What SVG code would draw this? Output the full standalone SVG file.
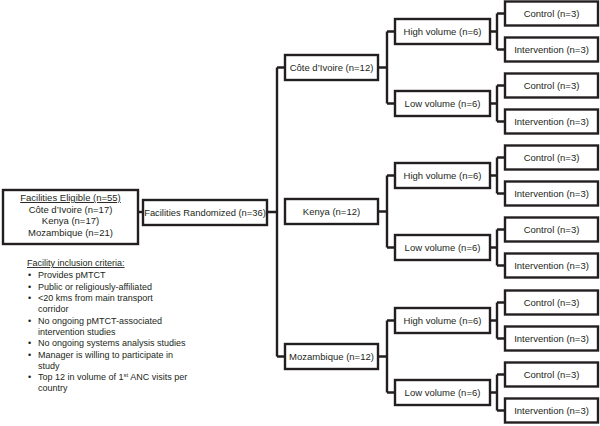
<svg xmlns="http://www.w3.org/2000/svg" width="600" height="426" viewBox="0 0 600 426">
<style>
rect{fill:#fff;stroke:#231f20;stroke-width:2.4}
.c path{fill:none;stroke:#231f20;stroke-width:2.4}
text{font-family:"Liberation Sans",Arial,sans-serif;font-size:9.5px;fill:#231f20;text-anchor:middle}
.l text{text-anchor:start;font-size:9px}
.u{text-decoration:underline}
</style>
<rect x="0" y="0" width="600" height="426" style="stroke:none"/>
<g class="c" id="connectors">
<path d="M138 212H143"/>
<path d="M267 212H277M277 67.5V356.5M277 67.5H285M277 356.5H285"/>
<path d="M378 67.5H387M387 31.5V103.5M387 31.5H395M387 103.5H395"/>
<path d="M378 211.5H387M387 175.5V247.5M387 175.5H395M387 247.5H395"/>
<path d="M378 356.5H387M387 320.5V392.5M387 320.5H395M387 392.5H395"/>
<path d="M490 31.5H497M497 13.5V49.5M497 13.5H505M497 49.5H505"/>
<path d="M490 103.5H497M497 85.5V121.5M497 85.5H505M497 121.5H505"/>
<path d="M490 175.5H497M497 157.5V193.5M497 157.5H505M497 193.5H505"/>
<path d="M490 247.5H497M497 229.5V265.5M497 229.5H505M497 265.5H505"/>
<path d="M490 320.5H497M497 302.5V338.5M497 302.5H505M497 338.5H505"/>
<path d="M490 392.5H497M497 374.5V410.5M497 374.5H505M497 410.5H505"/>
</g>
<g id="eligible"><rect x="3" y="190" width="135" height="54"/>
<text x="70.5" y="201" class="u">Facilities Eligible (n=55)</text>
<text x="70.5" y="212.5">Côte d’Ivoire (n=17)</text>
<text x="70.5" y="224">Kenya (n=17)</text>
<text x="70.5" y="235.5">Mozambique (n=21)</text></g>
<g id="randomized"><rect x="143" y="200" width="124" height="25"/><text x="205" y="215.5" style="font-size:9.4px">Facilities Randomized (n=36)</text></g>
<g id="cote"><rect x="285" y="55" width="93" height="25"/><text x="331.5" y="70.8">Côte d’Ivoire (n=12)</text></g>
<g id="kenya"><rect x="285" y="199" width="93" height="25"/><text x="331.5" y="214.8">Kenya (n=12)</text></g>
<g id="mozambique"><rect x="285" y="344" width="93" height="25"/><text x="331.5" y="359.8">Mozambique (n=12)</text></g>
<g id="cote-high"><rect x="395" y="19" width="95" height="25"/><text x="442.5" y="34.8">High volume (n=6)</text></g>
<g id="cote-low"><rect x="395" y="91" width="95" height="25"/><text x="442.5" y="106.8">Low volume (n=6)</text></g>
<g id="kenya-high"><rect x="395" y="163" width="95" height="25"/><text x="442.5" y="178.8">High volume (n=6)</text></g>
<g id="kenya-low"><rect x="395" y="235" width="95" height="25"/><text x="442.5" y="250.8">Low volume (n=6)</text></g>
<g id="moz-high"><rect x="395" y="308" width="95" height="25"/><text x="442.5" y="323.8">High volume (n=6)</text></g>
<g id="moz-low"><rect x="395" y="380" width="95" height="25"/><text x="442.5" y="395.8">Low volume (n=6)</text></g>
<g id="cote-high-control"><rect x="505" y="1.5" width="93" height="24"/><text x="551.5" y="16.8">Control (n=3)</text></g>
<g id="cote-high-intervention"><rect x="505" y="37.5" width="93" height="24"/><text x="551.5" y="52.8">Intervention (n=3)</text></g>
<g id="cote-low-control"><rect x="505" y="73.5" width="93" height="24"/><text x="551.5" y="88.8">Control (n=3)</text></g>
<g id="cote-low-intervention"><rect x="505" y="109.5" width="93" height="24"/><text x="551.5" y="124.8">Intervention (n=3)</text></g>
<g id="kenya-high-control"><rect x="505" y="145.5" width="93" height="24"/><text x="551.5" y="160.8">Control (n=3)</text></g>
<g id="kenya-high-intervention"><rect x="505" y="181.5" width="93" height="24"/><text x="551.5" y="196.8">Intervention (n=3)</text></g>
<g id="kenya-low-control"><rect x="505" y="217.5" width="93" height="24"/><text x="551.5" y="232.8">Control (n=3)</text></g>
<g id="kenya-low-intervention"><rect x="505" y="253.5" width="93" height="24"/><text x="551.5" y="268.8">Intervention (n=3)</text></g>
<g id="moz-high-control"><rect x="505" y="290.5" width="93" height="24"/><text x="551.5" y="305.8">Control (n=3)</text></g>
<g id="moz-high-intervention"><rect x="505" y="326.5" width="93" height="24"/><text x="551.5" y="341.8">Intervention (n=3)</text></g>
<g id="moz-low-control"><rect x="505" y="362.5" width="93" height="24"/><text x="551.5" y="377.8">Control (n=3)</text></g>
<g id="moz-low-intervention"><rect x="505" y="398.5" width="93" height="24"/><text x="551.5" y="413.8">Intervention (n=3)</text></g>
<g id="criteria" class="l">
<text x="27" y="266" class="u">Facility inclusion criteria:</text>
<text x="28" y="278">•</text><text x="38" y="278">Provides pMTCT</text>
<text x="28" y="290">•</text><text x="38" y="290">Public or religiously-affiliated</text>
<text x="28" y="301">•</text><text x="38" y="301">&lt;20 kms from main transport</text>
<text x="38" y="312">corridor</text>
<text x="28" y="324">•</text><text x="38" y="324">No ongoing pMTCT-associated</text>
<text x="38" y="335">intervention studies</text>
<text x="28" y="346">•</text><text x="38" y="346">No ongoing systems analysis studies</text>
<text x="28" y="358">•</text><text x="38" y="358">Manager is willing to participate in</text>
<text x="38" y="369">study</text>
<text x="28" y="380">•</text><text x="38" y="380">Top 12 in volume of 1<tspan font-size="6" dy="-3">st</tspan><tspan dy="3"> ANC visits per</tspan></text>
<text x="38" y="391">country</text>
</g>
</svg>
